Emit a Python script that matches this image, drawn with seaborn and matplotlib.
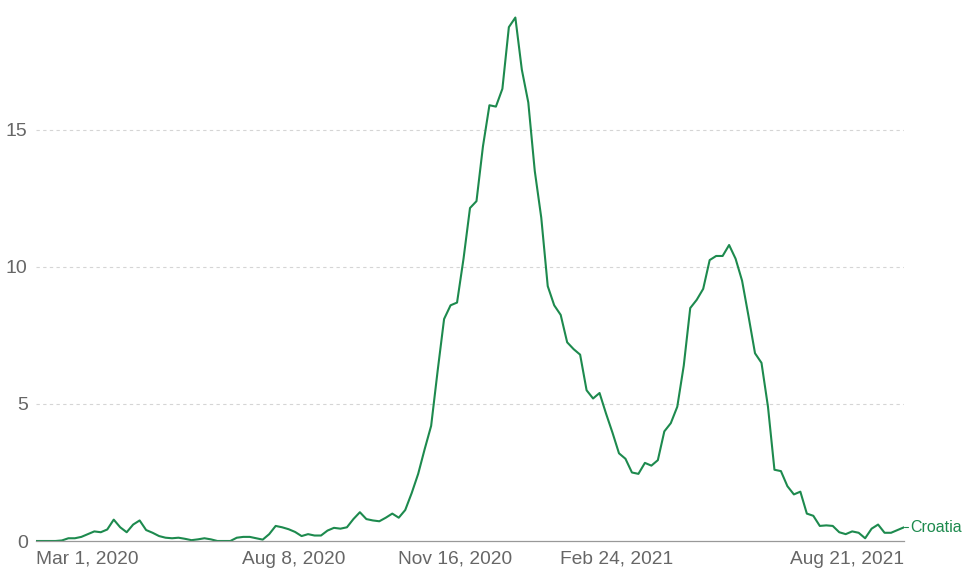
import pandas as pd
import matplotlib
matplotlib.use("Agg")
import matplotlib.pyplot as plt
import seaborn as sns

# values, one every ~4 days from Mar 1, 2020 to Aug 21, 2021
values = [
    0.0, 0.0, 0.0, 0.0, 0.02, 0.1, 0.1, 0.15, 0.25, 0.35,
    0.32, 0.42, 0.78, 0.5, 0.32, 0.6, 0.75, 0.4, 0.3, 0.18,
    0.12, 0.1, 0.12, 0.08, 0.03, 0.06, 0.1, 0.06, 0.0, 0.0,
    0.0, 0.12, 0.15, 0.15, 0.1, 0.05, 0.25, 0.55, 0.5, 0.43,
    0.33, 0.18, 0.25, 0.2, 0.2, 0.38, 0.48, 0.45, 0.5, 0.8,
    1.05, 0.8, 0.75, 0.72, 0.85, 1.0, 0.85, 1.13, 1.75, 2.45,
    3.35, 4.2, 6.2, 8.1, 8.6, 8.7, 10.3, 12.15, 12.4, 14.4,
    15.9, 15.85, 16.5, 18.75, 19.1, 17.2, 16.0, 13.5, 11.8, 9.3,
    8.6, 8.25, 7.25, 7.0, 6.8, 5.5, 5.2, 5.4, 4.65, 3.95,
    3.2, 3.0, 2.5, 2.45, 2.85, 2.75, 2.95, 4.0, 4.3, 4.9,
    6.4, 8.5, 8.8, 9.2, 10.25, 10.4, 10.4, 10.8, 10.3, 9.5,
    8.2, 6.85, 6.5, 4.9, 2.6, 2.55, 2.0, 1.7, 1.8, 1.0,
    0.92, 0.55, 0.57, 0.55, 0.32, 0.25, 0.35, 0.3, 0.1, 0.45,
    0.6, 0.3, 0.3, 0.4, 0.5,
]
start_date = "2020-03-01"
end_date = "2021-08-21"
country = "Croatia"
tick_dates = ["2020-03-01", "2020-08-08", "2020-11-16", "2021-02-24", "2021-08-21"]
tick_labels = ["Mar 1, 2020", "Aug 8, 2020", "Nov 16, 2020", "Feb 24, 2021", "Aug 21, 2021"]
y_ticks = [0, 5, 10, 15]

dates = pd.date_range(start_date, end_date, periods=len(values))
df = pd.DataFrame({"date": dates, "value": values})

sns.set_theme(style="white")
plt.rcParams["font.family"] = ["Liberation Sans", "DejaVu Sans"]

green = "#1d8a4e"
grey = "#666666"

fig = plt.figure(figsize=(9.63, 5.70), dpi=100)
ax = fig.add_axes([36 / 963, 29 / 570, 868 / 963, 541 / 570])

sns.lineplot(data=df, x="date", y="value", color=green, linewidth=1.5, ax=ax)

ax.set_xlim(pd.Timestamp(start_date), pd.Timestamp(end_date))
ax.set_ylim(0, 19.74)
ax.set_xlabel("")
ax.set_ylabel("")

for v in y_ticks[1:]:
    ax.axhline(v, color="#d5d5d5", linestyle=(0, (3, 3)), linewidth=0.8, zorder=0)

ax.set_yticks(y_ticks)
ax.set_yticklabels([str(v) for v in y_ticks], fontsize=14, color=grey)
ax.tick_params(axis="y", length=0, pad=6)

ax.set_xticks(pd.to_datetime(tick_dates))
ax.set_xticklabels(tick_labels, fontsize=13.8, color=grey)
ax.tick_params(axis="x", length=5, color="#999999", width=0.8, pad=2)
labels = ax.get_xticklabels()
labels[0].set_horizontalalignment("left")
labels[-1].set_horizontalalignment("right")

for side in ["left", "right", "top"]:
    ax.spines[side].set_visible(False)
ax.spines["bottom"].set_color("#999999")
ax.spines["bottom"].set_linewidth(0.9)

ax.text(1.007, values[-1], country, transform=ax.get_yaxis_transform(),
        color=green, fontsize=11.5, va="center", ha="left")
ax.plot([1.0, 1.005], [values[-1], values[-1]], transform=ax.get_yaxis_transform(),
        color=green, linewidth=0.8, clip_on=False)

fig.savefig("out.png", dpi=100)
